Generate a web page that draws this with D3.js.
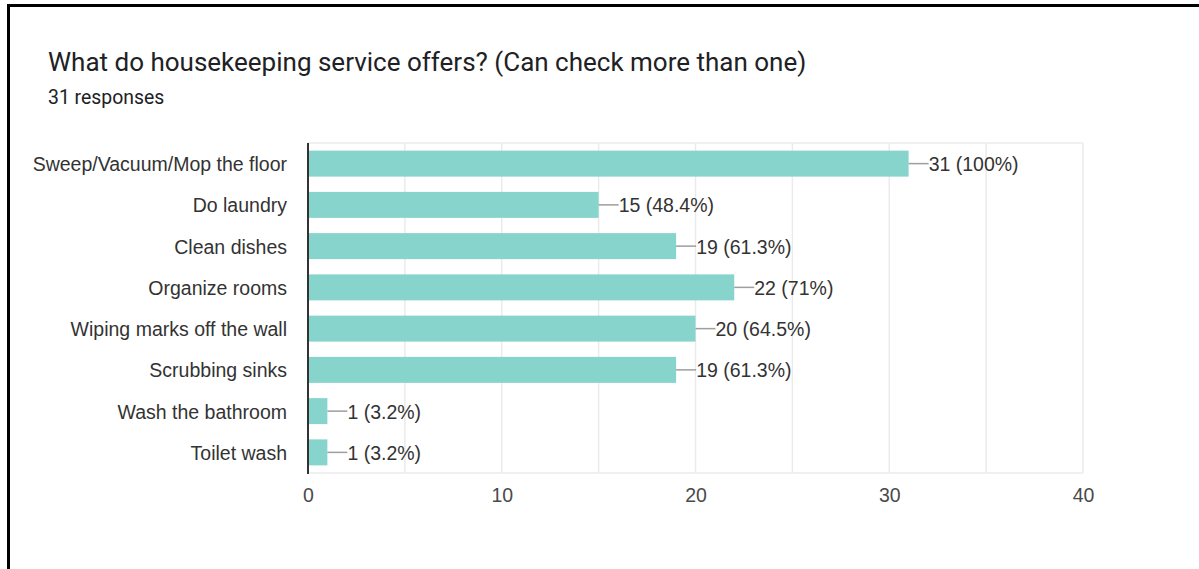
<!DOCTYPE html>
<html>
<head>
<meta charset="utf-8">
<script src="https://cdn.jsdelivr.net/npm/d3@7"></script>
<style>
  body { margin: 0; background: #fff; }
  svg { display: block; font-family: "Liberation Sans", Arial, sans-serif; }
</style>
</head>
<body>
<svg id="chart" width="1199" height="569"></svg>
<script>
const categories = [
  "Sweep/Vacuum/Mop the floor",
  "Do laundry",
  "Clean dishes",
  "Organize rooms",
  "Wiping marks off the wall",
  "Scrubbing sinks",
  "Wash the bathroom",
  "Toilet wash"
];
const counts = [31, 15, 19, 22, 20, 19, 1, 1];
const percents = ["100%", "48.4%", "61.3%", "71%", "64.5%", "61.3%", "3.2%", "3.2%"];
const xTicks = [0, 10, 20, 30, 40];
const gridValues = [5, 10, 15, 20, 25, 30, 35, 40];

const svg = d3.select("#chart");

// frame (top and left edges only, like the screenshot)
svg.append("line").attr("x1", 8).attr("x2", 1199).attr("y1", 5.5).attr("y2", 5.5)
  .attr("stroke", "#000").attr("stroke-width", 3);
svg.append("line").attr("x1", 8.5).attr("x2", 8.5).attr("y1", 4).attr("y2", 569)
  .attr("stroke", "#000").attr("stroke-width", 3);

svg.append("text").attr("x", 48).attr("y", 71)
  .attr("font-family", "Roboto, sans-serif")
  .attr("font-size", 26).attr("fill", "#202124")
  .text("What do housekeeping service offers? (Can check more than one)");
svg.append("text").attr("x", 48).attr("y", 104)
  .attr("font-family", "Roboto, sans-serif")
  .attr("font-size", 19.4).attr("fill", "#202124")
  .text("31 responses");

const plotLeft = 308, plotRight = 1083, plotTop = 143, plotBottom = 473;
const labelSize = 19.5;

const x = d3.scaleLinear().domain([0, 40]).range([plotLeft, plotRight]);
const y = d3.scaleBand().domain(categories).range([plotTop, plotBottom]).paddingInner(0.37).paddingOuter(0.185);

// gridlines
svg.append("g").selectAll("line").data(gridValues).join("line")
  .attr("x1", (d) => x(d)).attr("x2", (d) => x(d))
  .attr("y1", plotTop).attr("y2", plotBottom)
  .attr("stroke", "#ebebeb").attr("stroke-width", 1.5);
svg.append("line").attr("x1", plotLeft).attr("x2", plotRight).attr("y1", plotTop).attr("y2", plotTop)
  .attr("stroke", "#ebebeb").attr("stroke-width", 1.5);
svg.append("line").attr("x1", plotLeft).attr("x2", plotRight).attr("y1", plotBottom).attr("y2", plotBottom)
  .attr("stroke", "#ebebeb").attr("stroke-width", 1.5);

// bars
svg.append("g").selectAll("rect").data(categories).join("rect")
  .attr("x", x(0))
  .attr("y", (d) => y(d))
  .attr("width", (d, i) => x(counts[i]) - x(0))
  .attr("height", y.bandwidth())
  .attr("fill", "#86d4cc");

// leader lines + value labels
const labels = svg.append("g");
labels.selectAll("line").data(categories).join("line")
  .attr("x1", (d, i) => x(counts[i]))
  .attr("x2", (d, i) => x(counts[i]) + 20)
  .attr("y1", (d) => y(d) + y.bandwidth() / 2)
  .attr("y2", (d) => y(d) + y.bandwidth() / 2)
  .attr("stroke", "#9e9e9e").attr("stroke-width", 1.5);
labels.selectAll("text").data(categories).join("text")
  .attr("x", (d, i) => x(counts[i]) + 20)
  .attr("y", (d) => y(d) + y.bandwidth() / 2)
  .attr("dy", "0.38em")
  .attr("font-size", labelSize).attr("fill", "#333")
  .text((d, i) => `${counts[i]} (${percents[i]})`);

// category labels
svg.append("g").selectAll("text").data(categories).join("text")
  .attr("x", 287)
  .attr("y", (d) => y(d) + y.bandwidth() / 2)
  .attr("dy", "0.38em")
  .attr("text-anchor", "end")
  .attr("font-size", labelSize).attr("fill", "#333")
  .text((d) => d);

// x axis
const xAxis = svg.append("g").attr("transform", `translate(0,${plotBottom})`)
  .call(d3.axisBottom(x).tickValues(xTicks).tickSize(0).tickPadding(15));
xAxis.select(".domain").remove();
xAxis.selectAll("text").attr("font-size", labelSize).attr("fill", "#4a4a4a")
  .attr("font-family", "'Liberation Sans', Arial, sans-serif");

// y axis line
svg.append("line").attr("x1", plotLeft).attr("x2", plotLeft).attr("y1", plotTop).attr("y2", plotBottom + 1)
  .attr("stroke", "#333").attr("stroke-width", 2);
</script>
</body>
</html>
